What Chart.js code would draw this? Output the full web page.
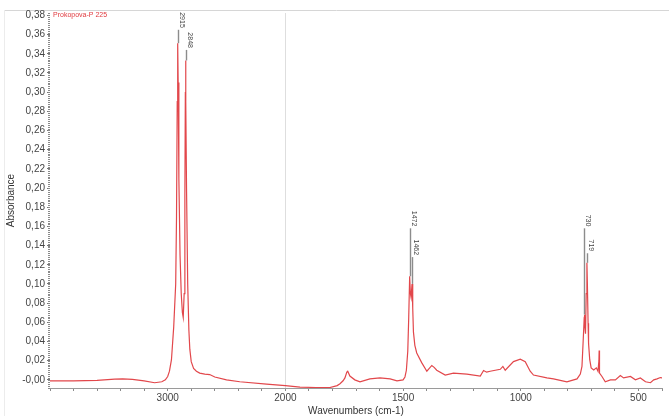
<!DOCTYPE html>
<html>
<head>
<meta charset="utf-8">
<script src="https://cdn.jsdelivr.net/npm/chart.js@4"></script>
<style>
html, body { margin: 0; padding: 0; background: #fff; }
canvas { display: block; }
</style>
</head>
<body>
<canvas id="spectrum" width="669" height="416"></canvas>
<script>
// spectrum (cm-1 / absorbance)
const wavenumbers = [
  4000, 3800, 3600, 3450, 3383, 3300, 3200, 3111, 3050, 3020,
  3000, 2985, 2968, 2949, 2932, 2925, 2919, 2915, 2911, 2905,
  2895, 2885, 2875, 2868, 2860, 2854, 2850, 2848, 2845, 2840,
  2830, 2820, 2812, 2800, 2780, 2756, 2728, 2685, 2643, 2600,
  2500, 2387, 2160, 2000, 1938, 1870, 1811, 1780, 1768, 1755,
  1747, 1739, 1735, 1726, 1705, 1683, 1641, 1598, 1555, 1526,
  1500, 1492, 1486, 1480, 1476, 1472, 1469, 1466, 1462, 1459,
  1456, 1450, 1442, 1421, 1399, 1378, 1368, 1357, 1321, 1286,
  1229, 1172, 1158, 1145, 1130, 1087, 1076, 1066, 1031, 1002,
  981, 960, 946, 889, 861, 804, 761, 747, 740, 735,
  731, 730, 728, 725, 722, 719, 717, 714, 712, 707,
  701, 690, 679, 672, 668, 667, 666, 665, 655, 641,
  619, 598, 577, 563, 534, 513, 492, 470, 449, 435,
  421, 407, 400
];
const absorbance = [
  -0.001, -0.001, -0.0005, 0.0008, 0.001, 0.0005, -0.001, -0.003, -0.002, 0.0,
  0.0035, 0.009, 0.021, 0.055, 0.10, 0.17, 0.29, 0.351, 0.31, 0.21,
  0.13, 0.09, 0.07, 0.065, 0.09, 0.19, 0.30, 0.333, 0.29, 0.20,
  0.10, 0.052, 0.032, 0.019, 0.012, 0.009, 0.007, 0.006, 0.0055, 0.003,
  0.0, -0.002, -0.0045, -0.006, -0.0075, -0.008, -0.008, -0.006, -0.004, -0.001,
  0.002, 0.008, 0.009, 0.004, 0.0, -0.002, 0.001, 0.002, 0.001, -0.001,
  0.0, 0.003, 0.01, 0.03, 0.065, 0.108, 0.09, 0.086, 0.10, 0.075,
  0.05, 0.036, 0.028, 0.018, 0.009, 0.015, 0.013, 0.010, 0.005, 0.007,
  0.006, 0.004, 0.0097, 0.008, 0.009, 0.011, 0.014, 0.010, 0.019, 0.0215,
  0.019, 0.009, 0.005, 0.002, 0.001, -0.002, 0.001, 0.006, 0.014, 0.04,
  0.062, 0.068, 0.06, 0.048, 0.09, 0.122, 0.10, 0.059, 0.038, 0.021,
  0.0125, 0.0104, 0.0125, 0.009, 0.02, 0.0305, 0.02, 0.007, 0.0035, -0.002,
  0.0, 0.0, 0.0045, 0.002, 0.0035, 0.0, 0.002, -0.002, -0.003, 0.0,
  0.001, 0.0024, 0.002
];

const peakPositions = [2915, 2848, 1472, 1462, 730, 719];
const peakLabelLevels = [0.365, 0.344, 0.158, 0.128, 0.158, 0.132];

const xTickLabels = [3000, 2000, 1500, 1000, 500];
const yTickValues = [0, 0.02, 0.04, 0.06, 0.08, 0.10, 0.12, 0.14, 0.16, 0.18,
  0.20, 0.22, 0.24, 0.26, 0.28, 0.30, 0.32, 0.34, 0.36, 0.38];

const sampleName = 'Prokopova-P 225';
const FONT = "'Liberation Sans', Arial, sans-serif";

// axis is compressed 2:1 above 2000 cm-1
function toAxis(w) { return w > 2000 ? 2000 + (w - 2000) / 2 : w; }
function fromAxis(u) { return u > 2000 ? Math.round(2000 + (u - 2000) * 2) : Math.round(u); }

let xTickList = [];
for (let w = 4000; w > 2000; w -= 200) xTickList.push(w);
for (let w = 2000; w >= 400; w -= 100) xTickList.push(w);

const framePlugin = {
  id: 'frame',
  beforeDraw(chart) {
    const c = chart.ctx;
    c.save();
    c.fillStyle = '#fff';
    c.fillRect(0, 0, chart.width, chart.height);
    c.strokeStyle = '#d6d6d6';
    c.lineWidth = 1;
    c.beginPath();
    c.moveTo(4, 10.5); c.lineTo(chart.width, 10.5);
    c.stroke();
    c.strokeStyle = '#ececec';
    c.beginPath();
    c.moveTo(4.5, 10); c.lineTo(4.5, chart.height);
    c.stroke();
    c.restore();
  },
  afterDraw(chart) {
    const c = chart.ctx;
    const y = chart.scales.y;
    const area = chart.chartArea;
    c.save();
    // dotted y axis (minor ticks)
    c.fillStyle = '#8a8a8a';
    for (let v = -0.008; v <= 0.3825; v += 0.002) {
      const py = Math.round(y.getPixelForValue(v));
      c.fillRect(area.left - 2, py, 2, 1);
    }
    // sample name
    c.fillStyle = '#e0393e';
    c.font = '7px ' + FONT;
    c.textBaseline = 'middle';
    c.fillText(sampleName, area.left + 3, area.top + 2.5);
    c.restore();
  }
};

const peakPlugin = {
  id: 'peaks',
  afterDatasetsDraw(chart) {
    const c = chart.ctx;
    const xs = chart.scales.x, ys = chart.scales.y;
    c.save();
    peakPositions.forEach((w, i) => {
      const idx = wavenumbers.indexOf(w);
      const px = Math.round(xs.getPixelForValue(toAxis(w))) + 0.5;
      const top = ys.getPixelForValue(peakLabelLevels[i]);
      const bottom = ys.getPixelForValue(absorbance[idx]);
      c.strokeStyle = '#8c8c8c';
      c.lineWidth = 1.4;
      c.beginPath();
      c.moveTo(px, top); c.lineTo(px, bottom);
      c.stroke();
      c.translate(px + 3, top - 2);
      c.rotate(Math.PI / 2);
      c.fillStyle = '#444';
      c.font = '7px ' + FONT;
      c.textAlign = 'right';
      c.textBaseline = 'middle';
      c.fillText(String(w), 0, 0);
      c.setTransform(1, 0, 0, 1, 0, 0);
    });
    c.restore();
  }
};

new Chart(document.getElementById('spectrum'), {
  type: 'line',
  data: {
    datasets: [{
      label: sampleName,
      data: wavenumbers.map((w, i) => ({ x: toAxis(w), y: absorbance[i] })),
      borderColor: '#e2474b',
      borderWidth: 1.2,
      pointRadius: 0,
      tension: 0,
      fill: false
    }]
  },
  options: {
    responsive: false,
    animation: false,
    devicePixelRatio: 1,
    layout: { padding: { top: 13, right: 7, left: 0, bottom: 0 } },
    plugins: { legend: { display: false }, tooltip: { enabled: false } },
    scales: {
      x: {
        type: 'linear',
        reverse: true,
        min: 400,
        max: 3000,
        afterBuildTicks: axis => { axis.ticks = xTickList.map(w => ({ value: toAxis(w) })); },
        afterFit: axis => { axis.height = 28; },
        grid: {
          color: ctx => (ctx.tick && ctx.tick.value === 2000) ? '#dedede' : 'rgba(0,0,0,0)',
          tickColor: '#8a8a8a',
          tickLength: 3
        },
        border: { display: true, color: '#9a9a9a' },
        ticks: {
          autoSkip: false,
          maxRotation: 0,
          padding: 1,
          color: '#444',
          font: { size: 10, family: FONT },
          callback: v => xTickLabels.includes(fromAxis(v)) ? String(fromAxis(v)) : ''
        },
        title: {
          display: true,
          text: 'Wavenumbers (cm-1)',
          color: '#333',
          font: { size: 10, family: FONT, lineHeight: 1 },
          padding: { top: 0, bottom: 0 }
        }
      },
      y: {
        min: -0.0085,
        max: 0.3825,
        afterBuildTicks: axis => { axis.ticks = yTickValues.map(v => ({ value: v })); },
        afterFit: axis => { axis.width = 50; },
        grid: { drawOnChartArea: false, tickColor: '#777', tickLength: 3 },
        border: { display: false },
        ticks: {
          autoSkip: false,
          padding: 2,
          color: '#444',
          font: { size: 10, family: FONT },
          callback: v => Math.abs(v) < 1e-9 ? '-0,00' : v.toFixed(2).replace('.', ',')
        },
        title: {
          display: true,
          text: 'Absorbance',
          color: '#333',
          font: { size: 10, family: FONT, lineHeight: 1 },
          padding: { top: 6, bottom: 0 }
        }
      }
    }
  },
  plugins: [framePlugin, peakPlugin]
});
</script>
</body>
</html>
